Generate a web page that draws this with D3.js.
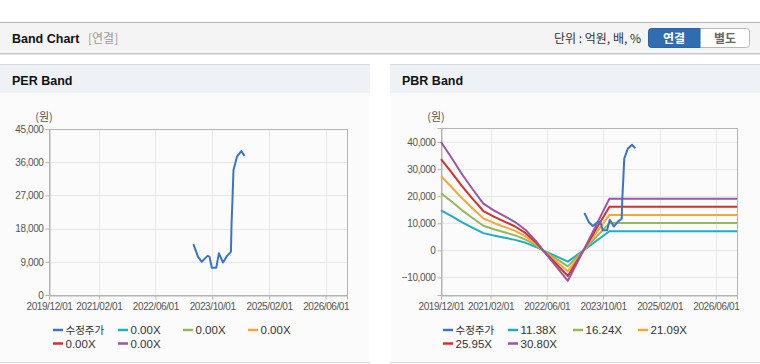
<!DOCTYPE html>
<html>
<head>
<meta charset="utf-8">
<script src="https://cdn.jsdelivr.net/npm/d3@7"></script>
<style>
  body { margin: 0; background: #fff; font-family: "Liberation Sans", Arial, sans-serif; }
  svg { display: block; }
</style>
</head>
<body>
<div id="main"></div>
<script>
// price series (수정주가)
var priceDates = ["2023-04-23", "2023-06-01", "2023-07-04", "2023-08-22", "2023-09-08", "2023-09-28",
  "2023-11-05", "2023-11-28", "2024-01-02", "2024-02-06", "2024-03-10", "2024-03-15",
  "2024-03-24", "2024-04-01", "2024-05-01", "2024-06-07", "2024-07-05"];
var priceValues = [13800, 10400, 9000, 10600, 10400, 7400, 7400, 11300, 8800, 10600, 11700,
  19000, 26500, 33900, 37500, 39000, 37700];

// PBR band series
var bandDates = ["2019-12-01", "2020-03-01", "2020-06-01", "2020-09-01", "2020-12-01", "2021-03-01",
  "2021-06-01", "2021-09-01", "2021-12-01", "2022-03-01", "2022-05-01", "2022-12-01",
  "2023-04-15", "2023-11-25", "2026-12-01"];
var band1 = [14780, 12630, 10360, 8310, 6370, 5460, 4670, 3870, 2780, 1250, 0, -4150, 0, 7060, 7060];
var band2 = [21100, 18030, 14780, 11860, 9090, 7800, 6660, 5520, 3960, 1790, 0, -5930, 0, 10070, 10070];
var band3 = [27400, 23410, 19190, 15400, 11810, 10120, 8650, 7170, 5150, 2320, 0, -7700, 0, 13080, 13080];
var band4 = [33710, 28800, 23610, 18940, 14530, 12460, 10640, 8820, 6330, 2860, 0, -9470, 0, 16090, 16090];
var band5 = [40010, 34190, 28030, 22480, 17250, 14780, 12630, 10470, 7520, 3390, 0, -11240, 0, 19100, 19100];

var perLegend = ["수정주가", "0.00X", "0.00X", "0.00X", "0.00X", "0.00X"];
var pbrLegend = ["수정주가", "11.38X", "16.24X", "21.09X", "25.95X", "30.80X"];
var xTicks = ["2019-12-01", "2021-02-01", "2022-06-01", "2023-10-01", "2025-02-01", "2026-06-01"];
var perYTicks = [0, 9000, 18000, 27000, 36000, 45000];
var pbrYTicks = [-10000, 0, 10000, 20000, 30000, 40000];

var colors = ["#3b74c4", "#22adc4", "#93b95a", "#f2a73a", "#d2312c", "#9a55a3"];
var parse = d3.timeParse("%Y-%m-%d");
var fmtDate = d3.timeFormat("%Y/%m/%d");
var fmtNum = d3.format(",");

var svg = d3.select("#main").append("svg")
  .attr("width", 760).attr("height", 364);

// top header bar
svg.append("rect").attr("x", 0).attr("y", 22).attr("width", 760).attr("height", 31).attr("fill", "#f4f4f4");
svg.append("line").attr("x1", 0).attr("x2", 760).attr("y1", 22.5).attr("y2", 22.5).attr("stroke", "#b4b4b4");
svg.append("line").attr("x1", 0).attr("x2", 760).attr("y1", 53.5).attr("y2", 53.5).attr("stroke", "#c4c4c4");
svg.append("line").attr("x1", 0).attr("x2", 760).attr("y1", 54.5).attr("y2", 54.5).attr("stroke", "#e6e6e6");
svg.append("text").attr("x", 12).attr("y", 43).attr("font-size", 12.5).attr("font-weight", "bold")
  .attr("fill", "#111").text("Band Chart");
svg.append("text").attr("x", 88).attr("y", 43).attr("font-size", 12).attr("fill", "#999")
  .attr("font-family", "Noto Sans CJK KR").text("[연결]");
svg.append("text").attr("x", 641).attr("y", 43).attr("font-size", 12).attr("fill", "#333")
  .attr("text-anchor", "end").attr("font-family", "Noto Sans CJK KR").text("단위 : 억원, 배, %");

// toggle buttons
svg.append("rect").attr("x", 648.5).attr("y", 28.5).attr("width", 101).attr("height", 19).attr("rx", 3)
  .attr("fill", "#fff").attr("stroke", "#b8b8b8");
svg.append("path").attr("d", "M700,28.5 H651.5 Q648.5,28.5 648.5,31.5 V44.5 Q648.5,47.5 651.5,47.5 H700 Z")
  .attr("fill", "#2f6db0").attr("stroke", "#2a63a0");
svg.append("text").attr("x", 674).attr("y", 42.5).attr("text-anchor", "middle").attr("font-size", 12)
  .attr("font-weight", "bold").attr("fill", "#fff").attr("font-family", "Noto Sans CJK KR").text("연결");
svg.append("text").attr("x", 725).attr("y", 42.5).attr("text-anchor", "middle").attr("font-size", 12)
  .attr("font-weight", "bold").attr("fill", "#666").attr("font-family", "Noto Sans CJK KR").text("별도");

function drawPanel(px, title, yDomain, yTicks, plot, bands, legendLabels) {
  var g = svg.append("g");
  g.append("rect").attr("x", px).attr("y", 64).attr("width", 370).attr("height", 299).attr("fill", "#fbfbfb");
  g.append("rect").attr("x", px).attr("y", 64).attr("width", 370).attr("height", 29).attr("fill", "#eef2f7");
  g.append("line").attr("x1", px).attr("x2", px + 370).attr("y1", 64.5).attr("y2", 64.5).attr("stroke", "#d8dce2");
  g.append("line").attr("x1", px).attr("x2", px + 370).attr("y1", 362.5).attr("y2", 362.5).attr("stroke", "#d8d8d8");
  g.append("text").attr("x", px + 12).attr("y", 85).attr("font-size", 12.5).attr("font-weight", "bold")
    .attr("fill", "#111").text(title);

  var x = d3.scaleTime().domain([parse("2019-12-01"), parse("2026-12-01")]).range([plot.left, plot.right]);
  var y = d3.scaleLinear().domain(yDomain).range([plot.bottom, plot.top]);

  // grid
  g.selectAll(".hg").data(yTicks).enter().append("line")
    .attr("x1", plot.left).attr("x2", plot.right)
    .attr("y1", function(d) { return Math.round(y(d)) + 0.5; })
    .attr("y2", function(d) { return Math.round(y(d)) + 0.5; })
    .attr("stroke", "#e8e8e8");
  g.selectAll(".vg").data(xTicks).enter().append("line")
    .attr("x1", function(d) { return Math.round(x(parse(d))) + 0.5; })
    .attr("x2", function(d) { return Math.round(x(parse(d))) + 0.5; })
    .attr("y1", plot.top).attr("y2", plot.bottom)
    .attr("stroke", "#e8e8e8");
  g.append("rect").attr("x", plot.left + 0.5).attr("y", plot.top + 0.5)
    .attr("width", plot.right - plot.left).attr("height", plot.bottom - plot.top)
    .attr("fill", "none").attr("stroke", "#b4b4b4");

  // axes
  var yAxis = g.append("g").attr("transform", "translate(" + (plot.left + 0.5) + ",0)")
    .call(d3.axisLeft(y).tickValues(yTicks).tickSize(4).tickPadding(2).tickFormat(fmtNum));
  var xAxis = g.append("g").attr("transform", "translate(0," + (plot.bottom + 0.5) + ")")
    .call(d3.axisBottom(x).tickValues(xTicks.map(parse)).tickSize(4).tickPadding(3).tickFormat(fmtDate));
  [yAxis, xAxis].forEach(function(a) {
    a.select(".domain").attr("stroke", "#b4b4b4");
    a.selectAll(".tick line").attr("stroke", "#b4b4b4");
    a.selectAll("text").attr("fill", "#555").attr("font-size", 10)
      .attr("font-family", "Liberation Sans, Arial").attr("letter-spacing", "-0.4px");
  });

  g.append("text").attr("x", plot.left - 5).attr("y", 121).attr("text-anchor", "middle")
    .attr("font-size", 11).attr("fill", "#555").attr("font-family", "Noto Sans CJK KR").text("(원)");

  var line = d3.line()
    .x(function(d) { return x(d[0]); })
    .y(function(d) { return y(d[1]); });

  bands.forEach(function(vals, i) {
    var pts = bandDates.map(function(d, j) { return [parse(d), vals[j]]; });
    g.append("path").attr("d", line(pts)).attr("fill", "none")
      .attr("stroke", colors[i + 1]).attr("stroke-width", 2).attr("stroke-linejoin", "round");
  });
  var pricePts = priceDates.map(function(d, j) { return [parse(d), priceValues[j]]; });
  g.append("path").attr("d", line(pricePts)).attr("fill", "none")
    .attr("stroke", colors[0]).attr("stroke-width", 2).attr("stroke-linejoin", "round");

  // legend
  legendLabels.forEach(function(lbl, i) {
    var col = i % 4, row = Math.floor(i / 4);
    var lx = px + 53 + col * 65, ly = 330 + row * 13.5;
    g.append("line").attr("x1", lx).attr("x2", lx + 10).attr("y1", ly).attr("y2", ly)
      .attr("stroke", colors[i]).attr("stroke-width", 2.5);
    var t = g.append("text").attr("x", lx + 12.5).attr("y", ly + 4).attr("fill", "#333").text(lbl);
    if (/[가-힣]/.test(lbl)) {
      t.attr("font-size", 10.5).attr("font-family", "Noto Sans CJK KR");
    } else {
      t.attr("font-size", 11.5).attr("font-family", "Liberation Sans, Arial");
    }
  });
}

drawPanel(0, "PER Band", [0, 45000], perYTicks,
  {left: 49, right: 347, top: 129, bottom: 295}, [], perLegend);
drawPanel(390, "PBR Band", [-16500, 45200], pbrYTicks,
  {left: 441, right: 737, top: 128, bottom: 295}, [band1, band2, band3, band4, band5], pbrLegend);
</script>
</body>
</html>
